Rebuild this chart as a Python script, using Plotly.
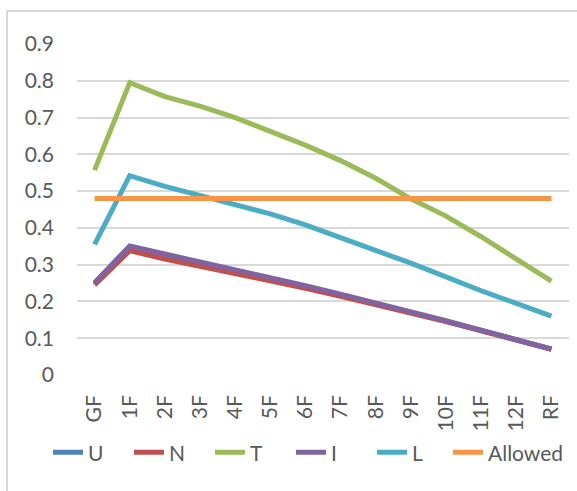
import plotly.graph_objects as go

floors = ["GF", "1F", "2F", "3F", "4F", "5F", "6F", "7F", "8F", "9F", "10F", "11F", "12F", "RF"]

U = [0.249, 0.349, 0.327, 0.306, 0.285, 0.264, 0.241, 0.218, 0.195, 0.170, 0.146, 0.121, 0.096, 0.070]
N = [0.245, 0.338, 0.315, 0.296, 0.277, 0.257, 0.236, 0.214, 0.192, 0.168, 0.145, 0.120, 0.095, 0.070]
T = [0.557, 0.795, 0.757, 0.731, 0.700, 0.664, 0.625, 0.583, 0.535, 0.479, 0.432, 0.376, 0.317, 0.255]
I = [0.251, 0.351, 0.329, 0.308, 0.287, 0.266, 0.243, 0.220, 0.197, 0.172, 0.148, 0.122, 0.097, 0.071]
L = [0.355, 0.542, 0.513, 0.488, 0.464, 0.438, 0.408, 0.374, 0.340, 0.304, 0.267, 0.229, 0.195, 0.160]
Allowed = [0.48] * len(floors)

series = [
    ("U", U, "#4F81BD", "legend"),
    ("N", N, "#C0504D", "legend"),
    ("T", T, "#9BBB59", "legend"),
    ("I", I, "#8064A2", "legend"),
    ("L", L, "#4BACC6", "legend"),
    ("Allowed", Allowed, "#F79646", "legend2"),
]

FONT = "Lato"
GRAY = "#595959"

fig = go.Figure()
for name, vals, color, lg in series:
    fig.add_trace(go.Scatter(
        x=floors, y=vals, name=name, mode="lines",
        line=dict(color=color, width=5), legend=lg,
    ))

legend_common = dict(
    orientation="h", xref="container", yref="container",
    xanchor="left", y=1 - 452.7 / 491, yanchor="middle",
    font=dict(family=FONT, size=21, color=GRAY),
    itemwidth=30, tracegroupgap=0,
    bgcolor="rgba(0,0,0,0)",
)

fig.update_layout(
    width=577, height=491,
    margin=dict(l=77, r=8, t=44, b=116, autoexpand=False),
    paper_bgcolor="white", plot_bgcolor="white",
    font=dict(family=FONT, size=21, color=GRAY),
    showlegend=True,
    legend=dict(legend_common, x=48 / 577, entrywidth=36, entrywidthmode="pixels"),
    legend2=dict(legend_common, x=448 / 577),
    xaxis=dict(
        type="category", range=[-0.5, 13.5], tickangle=-90,
        showgrid=False, showline=False, zeroline=False, ticks="",
        ticklabelstandoff=15, automargin=False,
        tickfont=dict(family=FONT, size=21, color=GRAY),
    ),
    yaxis=dict(
        range=[0, 0.9], dtick=0.1, tick0=0,
        showgrid=True, gridcolor="#D9D9D9", gridwidth=2,
        showline=False, zeroline=False, ticks="",
        ticklabelstandoff=22, automargin=False,
        tickfont=dict(family=FONT, size=21, color=GRAY),
    ),
    shapes=[dict(
        type="rect", xref="paper", yref="paper",
        x0=(7 - 77) / 492, x1=(590 - 77) / 492,
        y0=(375 - 500) / 331, y1=(375 - 11) / 331,
        line=dict(color="#D9D9D9", width=2), fillcolor="rgba(0,0,0,0)",
        layer="below",
    )],
)

fig.write_html("out.html")
